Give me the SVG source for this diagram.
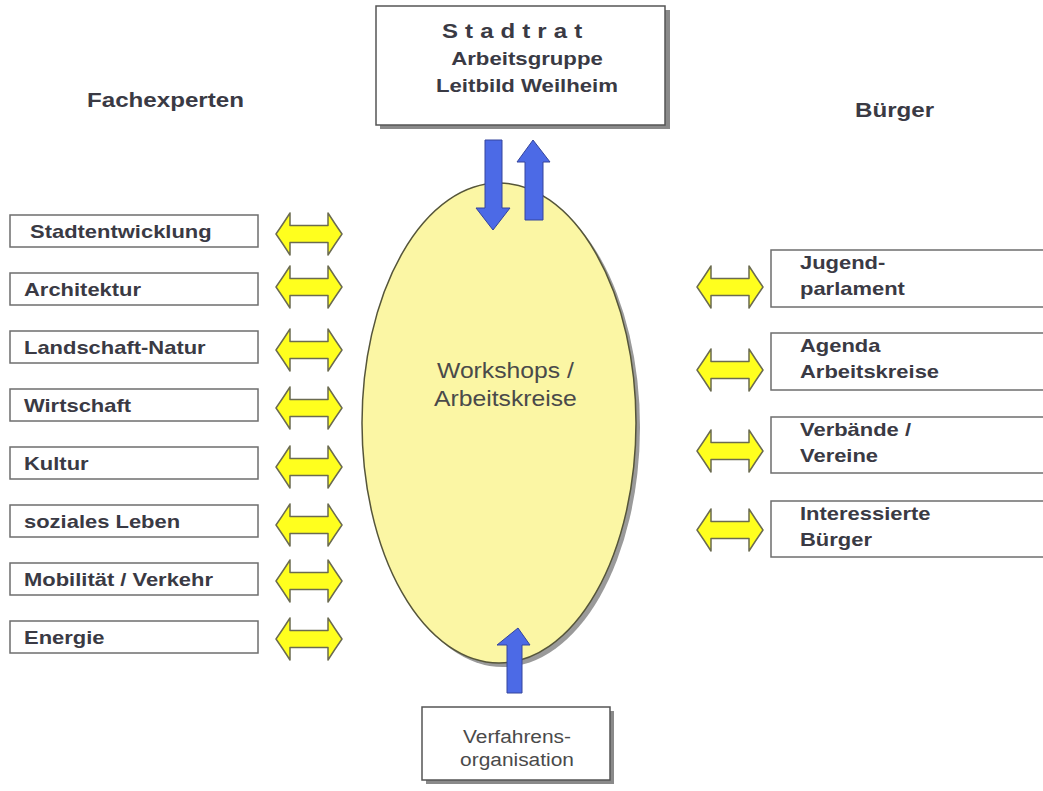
<svg xmlns="http://www.w3.org/2000/svg" xmlns:xlink="http://www.w3.org/1999/xlink" width="1043" height="791" viewBox="0 0 1043 791">
<style>
.b{font-family:"Liberation Sans",Arial,sans-serif;font-weight:bold;font-size:18px;fill:#3a3a44}
.r{font-family:"Liberation Sans",Arial,sans-serif;font-size:21.5px;fill:#4a4a4a}
.h{font-size:21px}
.t1{font-size:20px;letter-spacing:5.9px}
.t2{font-size:18.5px}
.v{font-size:19px}
.box{fill:#fff;stroke:#6e6e6e;stroke-width:1.5}
.shadow{fill:#8a8a8a}
.dbl{fill:#ffff1e;stroke:#6b6b50;stroke-width:1.5;stroke-linejoin:round}
.blue{fill:#4c6ae6;stroke:#34449c;stroke-width:1}
</style>
<defs>
<path id="dbl" class="dbl" d="M-33,0 Q-26,-10 -19,-21 L-19,-8.5 L19,-8.5 L19,-21 Q26,-10 33,0 Q26,10 19,21 L19,8.5 L-19,8.5 L-19,21 Q-26,10 -33,0 Z"/>
</defs>
<rect width="1043" height="791" fill="#fff"/>

<g id="headers">
<text class="b h" transform="translate(87,107) scale(1.15,1)">Fachexperten</text>
<text class="b h" transform="translate(855,117) scale(1.15,1)">Bürger</text>
</g>

<g id="stadtrat">
<rect class="shadow" x="380" y="10" width="290" height="119"/>
<rect x="376" y="6" width="289" height="119" fill="#fff" stroke="#555" stroke-width="1.5"/>
<text class="b t1" transform="translate(442,38) scale(1.2,1)">Stadtrat</text>
<text class="b t2" text-anchor="middle" transform="translate(527,65) scale(1.2,1)">Arbeitsgruppe</text>
<text class="b t2" text-anchor="middle" transform="translate(527,92) scale(1.2,1)">Leitbild Weilheim</text>
</g>

<g id="workshops">
<ellipse cx="503" cy="427" rx="137" ry="240" fill="#9a9a9a"/>
<ellipse cx="499" cy="423" rx="137" ry="240" fill="#fbf6a4" stroke="#55553a" stroke-width="1.5"/>
<text class="r" transform="translate(437,378) scale(1.15,1)">Workshops /</text>
<text class="r" transform="translate(434,406) scale(1.15,1)">Arbeitskreise</text>
</g>

<g id="verfahren">
<rect class="shadow" x="426" y="711" width="188" height="73"/>
<rect x="422" y="707" width="188" height="73" fill="#fff" stroke="#555" stroke-width="1.5"/>
<text class="r v" text-anchor="middle" transform="translate(517,743) scale(1.1,1)">Verfahrens-</text>
<text class="r v" text-anchor="middle" transform="translate(517,766) scale(1.1,1)">organisation</text>
</g>

<g id="left-nodes">
<g id="n-stadtentwicklung"><rect class="box" x="10" y="215" width="248" height="32"/><text class="b" transform="translate(30,238) scale(1.22,1)">Stadtentwicklung</text></g>
<g id="n-architektur"><rect class="box" x="10" y="273" width="248" height="32"/><text class="b" transform="translate(24,296) scale(1.22,1)">Architektur</text></g>
<g id="n-landschaft"><rect class="box" x="10" y="331" width="248" height="32"/><text class="b" transform="translate(24,354) scale(1.22,1)">Landschaft-Natur</text></g>
<g id="n-wirtschaft"><rect class="box" x="10" y="389" width="248" height="32"/><text class="b" transform="translate(24,412) scale(1.22,1)">Wirtschaft</text></g>
<g id="n-kultur"><rect class="box" x="10" y="447" width="248" height="32"/><text class="b" transform="translate(24,470) scale(1.22,1)">Kultur</text></g>
<g id="n-soziales"><rect class="box" x="10" y="505" width="248" height="32"/><text class="b" transform="translate(24,528) scale(1.22,1)">soziales Leben</text></g>
<g id="n-mobilitaet"><rect class="box" x="10" y="563" width="248" height="32"/><text class="b" transform="translate(24,586) scale(1.22,1)">Mobilität / Verkehr</text></g>
<g id="n-energie"><rect class="box" x="10" y="621" width="248" height="32"/><text class="b" transform="translate(24,644) scale(1.22,1)">Energie</text></g>
</g>

<g id="right-nodes">
<g id="n-jugend"><rect class="box" x="771" y="250" width="280" height="57"/><text class="b" transform="translate(800,269) scale(1.22,1)">Jugend-</text><text class="b" transform="translate(800,295) scale(1.22,1)">parlament</text></g>
<g id="n-agenda"><rect class="box" x="771" y="333" width="280" height="57"/><text class="b" transform="translate(800,352) scale(1.22,1)">Agenda</text><text class="b" transform="translate(800,378) scale(1.22,1)">Arbeitskreise</text></g>
<g id="n-verbaende"><rect class="box" x="771" y="417" width="280" height="56"/><text class="b" transform="translate(800,436) scale(1.22,1)">Verbände /</text><text class="b" transform="translate(800,462) scale(1.22,1)">Vereine</text></g>
<g id="n-buerger"><rect class="box" x="771" y="501" width="280" height="56"/><text class="b" transform="translate(800,520) scale(1.22,1)">Interessierte</text><text class="b" transform="translate(800,546) scale(1.22,1)">Bürger</text></g>
</g>

<g id="connectors">
<use xlink:href="#dbl" x="309" y="234"/>
<use xlink:href="#dbl" x="309" y="287"/>
<use xlink:href="#dbl" x="309" y="350"/>
<use xlink:href="#dbl" x="309" y="408"/>
<use xlink:href="#dbl" x="309" y="467"/>
<use xlink:href="#dbl" x="309" y="525"/>
<use xlink:href="#dbl" x="309" y="581"/>
<use xlink:href="#dbl" x="309" y="639"/>
<use xlink:href="#dbl" x="730" y="287"/>
<use xlink:href="#dbl" x="730" y="370"/>
<use xlink:href="#dbl" x="730" y="451"/>
<use xlink:href="#dbl" x="730" y="530"/>
<path class="blue" d="M485,140 L502,140 L502,208 L510,208 L493,230 L476,208 L485,208 Z"/>
<path class="blue" d="M525,220 L543,220 L543,162 L550,162 L533,140 L517,162 L525,162 Z"/>
<path class="blue" d="M507,693 L522,693 L522,645 L530,645 L518,628 L497,645 L507,645 Z"/>
</g>
</svg>
